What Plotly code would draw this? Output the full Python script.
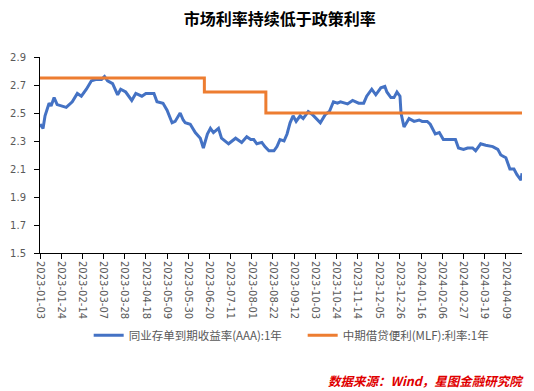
import plotly.graph_objects as go

# 同业存单到期收益率(AAA):1年
ncd_dates = [
    "2023-01-03", "2023-01-06", "2023-01-08", "2023-01-12", "2023-01-14", "2023-01-17", "2023-01-20",
    "2023-01-24", "2023-01-29", "2023-02-04", "2023-02-09", "2023-02-13", "2023-02-18", "2023-02-23",
    "2023-02-28", "2023-03-05", "2023-03-08", "2023-03-11", "2023-03-16", "2023-03-21", "2023-03-24",
    "2023-03-29", "2023-04-04", "2023-04-08", "2023-04-14", "2023-04-18", "2023-04-26", "2023-04-29",
    "2023-05-05", "2023-05-09", "2023-05-14", "2023-05-17", "2023-05-22", "2023-05-25", "2023-05-27",
    "2023-06-01", "2023-06-06", "2023-06-11", "2023-06-14", "2023-06-18", "2023-06-21", "2023-06-24",
    "2023-06-29", "2023-07-02", "2023-07-09", "2023-07-16", "2023-07-22", "2023-07-27", "2023-07-31",
    "2023-08-03", "2023-08-06", "2023-08-11", "2023-08-14", "2023-08-18", "2023-08-23", "2023-08-26",
    "2023-08-29", "2023-09-02", "2023-09-05", "2023-09-08", "2023-09-11", "2023-09-14", "2023-09-18",
    "2023-09-21", "2023-09-26", "2023-09-30", "2023-10-08", "2023-10-13", "2023-10-17", "2023-10-21",
    "2023-10-25", "2023-10-28", "2023-11-04", "2023-11-09", "2023-11-15", "2023-11-20", "2023-11-23",
    "2023-11-28", "2023-12-02", "2023-12-07", "2023-12-11", "2023-12-13", "2023-12-17", "2023-12-20",
    "2023-12-23", "2023-12-26", "2023-12-27", "2023-12-30", "2024-01-04", "2024-01-09", "2024-01-14",
    "2024-01-17", "2024-01-22", "2024-01-25", "2024-01-30", "2024-02-03", "2024-02-07", "2024-02-11",
    "2024-02-14", "2024-02-19", "2024-02-22", "2024-02-27", "2024-03-02", "2024-03-07", "2024-03-10",
    "2024-03-15", "2024-03-20", "2024-03-27", "2024-04-01", "2024-04-04", "2024-04-09", "2024-04-13",
    "2024-04-17", "2024-04-20", "2024-04-24", "2024-04-25",
]
ncd_values = [
    2.42, 2.39, 2.48, 2.57, 2.55, 2.61, 2.56,
    2.55, 2.54, 2.58, 2.64, 2.62, 2.67, 2.73,
    2.74, 2.74, 2.76, 2.73, 2.71, 2.63, 2.67,
    2.65, 2.59, 2.64, 2.62, 2.64, 2.64, 2.58,
    2.57, 2.52, 2.43, 2.44, 2.50, 2.45, 2.43,
    2.42, 2.36, 2.32, 2.25, 2.35, 2.39, 2.36,
    2.39, 2.32, 2.28, 2.32, 2.29, 2.33, 2.31,
    2.31, 2.28, 2.29, 2.26, 2.23, 2.23, 2.26,
    2.31, 2.30, 2.35, 2.43, 2.48, 2.44, 2.48,
    2.46, 2.51, 2.49, 2.43, 2.49, 2.51, 2.58,
    2.57, 2.58, 2.565, 2.59, 2.57, 2.57, 2.62,
    2.67, 2.63, 2.68, 2.69, 2.65, 2.61, 2.61,
    2.65, 2.62, 2.50, 2.40, 2.46, 2.44, 2.45,
    2.44, 2.44, 2.42, 2.35, 2.36, 2.31, 2.31,
    2.31, 2.31, 2.25, 2.24, 2.25, 2.25, 2.23,
    2.28, 2.27, 2.26, 2.24, 2.20, 2.18, 2.10,
    2.10, 2.06, 2.02, 2.07,
]

# 中期借贷便利(MLF):利率:1年 (step changes)
mlf_dates = ["2023-01-03", "2023-06-15", "2023-08-15", "2024-04-25"]
mlf_values = [2.75, 2.65, 2.50, 2.50]

title_text = "市场利率持续低于政策利率"
ncd_name = "同业存单到期收益率(AAA):1年"
mlf_name = "中期借贷便利(MLF):利率:1年"
source_text = "数据来源：Wind，星图金融研究院"

y_ticks = [1.5, 1.7, 1.9, 2.1, 2.3, 2.5, 2.7, 2.9]
x_start = "2023-01-03"
x_end = "2024-04-25"
tick_step_days = 21

fig = go.Figure()
fig.add_trace(go.Scatter(
    x=ncd_dates, y=ncd_values, name=ncd_name, mode="lines",
    line=dict(color="#4472C4", width=3),
))
fig.add_trace(go.Scatter(
    x=mlf_dates, y=mlf_values, name=mlf_name, mode="lines",
    line=dict(color="#ED7D31", width=3, shape="hv"),
))

fig.update_layout(
    width=534, height=391,
    margin=dict(l=40, r=12, t=57, b=138, autoexpand=False),
    paper_bgcolor="white", plot_bgcolor="white",
    font=dict(family="Noto Sans CJK SC, sans-serif", color="#595959", size=11),
    title=dict(
        text="<b>" + title_text + "</b>", x=0.524, xanchor="center",
        xref="container", yref="container",
        y=0.951, yanchor="middle",
        font=dict(size=16, color="#000000", family="Noto Sans CJK SC"),
    ),
    showlegend=True,
    legend=dict(
        orientation="h", x=0.101, xanchor="left", y=-0.42, yanchor="middle",
        font=dict(size=11.5, color="#595959"), itemwidth=30,
        entrywidth=169, entrywidthmode="pixels", bgcolor="rgba(0,0,0,0)",
    ),
    xaxis=dict(
        type="date", automargin=False,
        range=[x_start, x_end],
        tick0=x_start, dtick=tick_step_days * 86400000,
        tickformat="%Y-%m-%d", tickangle=90,
        showline=True, linecolor="#000000", linewidth=1,
        ticks="outside", ticklen=5, tickcolor="#000000",
        showgrid=False, zeroline=False,
        tickfont=dict(size=10, color="#595959", family="DejaVu Sans"),
    ),
    yaxis=dict(
        range=[1.5, 2.9], tickvals=y_ticks, tickformat=".1f", automargin=False,
        showline=True, linecolor="#000000", linewidth=1,
        ticks="outside", ticklen=5, tickcolor="#000000",
        showgrid=False, zeroline=False, ticklabelstandoff=6,
        tickfont=dict(size=10, color="#595959", family="DejaVu Sans"),
    ),
)

fig.add_annotation(
    text="<b><i>" + source_text + "</i></b>",
    xref="paper", yref="paper", x=1.008, xanchor="right",
    y=-0.652, yanchor="middle", showarrow=False,
    font=dict(size=12.5, color="#E00000", family="Noto Sans CJK SC"),
)

fig.write_html(
    "out.html",
    config={"displayModeBar": False},
    post_script="document.body.style.margin='0';document.body.style.padding='0';",
)
